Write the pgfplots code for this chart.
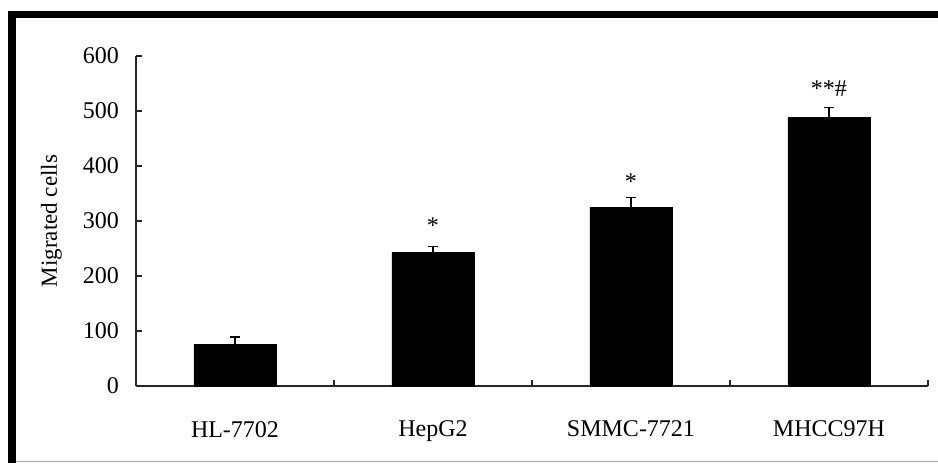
\documentclass[border=0pt]{standalone}
\usepackage{fontspec}
\setmainfont{Liberation Serif}
\usepackage{pgfplots}
\pgfplotsset{compat=1.18}

\begin{document}
\begin{tikzpicture}[x=0.5pt,y=0.5pt]
% page frame (1 unit = 1 px of the reference)
\path[use as bounding box] (0,0) rectangle (938,463);
\fill[black] (8,0) rectangle (16,452);
\fill[black] (8,445) rectangle (938,452);
\draw[gray!70, line width=0.5pt] (16,1.5) -- (938,1.5);

\begin{axis}[
  at={(68pt,38.5pt)}, anchor=south west,
  scale only axis,
  width=396pt, height=165pt,
  xmin=-0.5, xmax=3.5,
  ymin=0, ymax=600,
  axis x line*=bottom, axis y line*=left,
  axis line style={-, line width=0.6pt, black!85},
  ytick={0,100,...,600},
  xtick={0,1,2,3},
  xticklabels={HL-7702, HepG2, SMMC-7721, MHCC97H},
  major x tick style={draw=none},
  minor xtick={0.5,1.5,2.5,3.5},
  minor tick length=3pt,
  major tick length=3pt,
  tick align=inside,
  tick style={line width=0.6pt, black!85},
  tick label style={font=\fontsize{12}{14}\selectfont},
  /pgf/number format/assume math mode=true,
  xticklabel style={yshift=-14pt},
  yticklabel style={xshift=-5pt},
  every axis y label/.style={at={(axis description cs:-0.107,0.5)}, anchor=center, rotate=90},
  ylabel={Migrated cells},
  ylabel style={font=\fontsize{11.5}{14}\selectfont},
  clip=false,
]
\addplot[ybar, bar width=41pt, fill=black, draw=black,
  error bars/.cd, y dir=plus, y explicit,
  error bar style={line width=0.6pt, black},
  error mark options={black, rotate=90, mark size=2.5pt, line width=0.6pt}]
  coordinates {(0,76) +- (0,13) (1,243) +- (0,11) (2,324) +- (0,19) (3,488) +- (0,18)};
\addplot[draw=none, mark=none, nodes near coords, point meta=explicit symbolic,
  nodes near coords style={anchor=base, font=\fontsize{12}{14}\selectfont}]
  coordinates {(1,278) [*] (2,358) [*] (3,527) [**\#]};
\end{axis}
\end{tikzpicture}
\end{document}
